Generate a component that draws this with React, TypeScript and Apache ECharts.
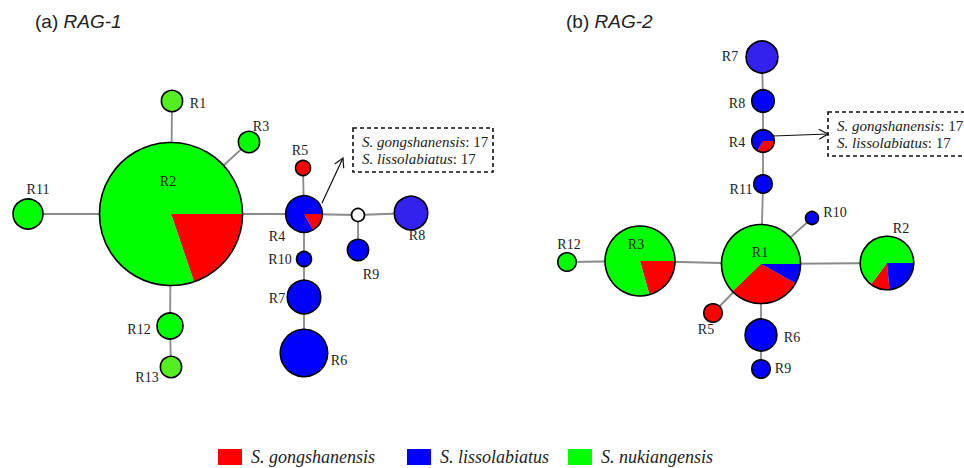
import React, { useEffect, useRef } from "react";
import * as echarts from "echarts";

// ---------- data ----------
const SPECIES = ["S. gongshanensis", "S. lissolabiatus", "S. nukiangensis"];

// (a) RAG-1 haplotype network ("mv" = median vector)
const rag1Names = ["R1", "R2", "R3", "R4", "R5", "R6", "R7", "R8", "R9", "R10", "R11", "R12", "R13", "mv"];
const rag1X = [172, 171, 249, 304, 303, 304, 304, 411, 358, 304, 28, 170, 171, 358];
const rag1Y = [101, 214, 142, 214, 168, 353, 297, 213, 250, 259, 214, 326, 367, 215];
const rag1Gong = [0, 18, 0, 1, 1, 0, 0, 0, 0, 0, 0, 0, 0, 0];
const rag1Liss = [0, 0, 0, 5, 0, 10, 5, 5, 2, 1, 0, 0, 0, 0];
const rag1Nuki = [2, 73, 2, 0, 0, 0, 0, 0, 0, 0, 4, 3, 2, 0];
const rag1Edges = [
  ["R2", "R1"], ["R2", "R3"], ["R2", "R11"], ["R2", "R12"], ["R12", "R13"], ["R2", "R4"],
  ["R4", "R5"], ["R4", "R10"], ["R10", "R7"], ["R7", "R6"], ["R4", "mv"], ["mv", "R8"], ["mv", "R9"],
];

// (b) RAG-2 haplotype network
const rag2Names = ["R1", "R2", "R3", "R4", "R5", "R6", "R7", "R8", "R9", "R10", "R11", "R12"];
const rag2X = [761, 887, 640, 763, 713, 761, 762, 763, 761, 812, 763, 567];
const rag2Y = [264, 263, 261, 141, 313, 335, 57, 101, 369, 218, 184, 262];
const rag2Gong = [11, 2, 6, 1, 2, 0, 0, 0, 0, 0, 0, 0];
const rag2Liss = [3, 4, 0, 2, 0, 6, 6, 3, 2, 1, 2, 0];
const rag2Nuki = [23, 11, 23, 0, 0, 0, 0, 0, 0, 0, 0, 2];
const rag2Edges = [
  ["R7", "R8"], ["R8", "R4"], ["R4", "R11"], ["R11", "R1"], ["R1", "R10"], ["R1", "R2"],
  ["R1", "R3"], ["R3", "R12"], ["R1", "R5"], ["R1", "R6"], ["R6", "R9"],
];

const annotationLines = [
  { sp: "S. gongshanensis", n: 17 },
  { sp: "S. lissolabiatus", n: 17 },
];

// ---------- layout & style ----------
const COLORS = ["#ff0000", "#0000ff", "#00ff00"];
const PANEL_SCALE = { a: 7.5, b: 6.5 }; // radius per sqrt(count)
const MEDIAN_R = 6.5;
const FILL_OVERRIDE: Record<string, string> = {
  "a:R1": "#55ee22", "a:R13": "#55ee22", "a:R8": "#3322ee", "b:R7": "#3322ee",
};
const LABEL_OFFSET: Record<string, [number, number]> = {
  "a:R1": [26, 2], "a:R2": [-3, -33], "a:R3": [12, -16], "a:R4": [-27, 22], "a:R5": [-3, -18],
  "a:R6": [35, 7], "a:R7": [-27, 1], "a:R8": [6, 22], "a:R9": [13, 24], "a:R10": [-24, 0],
  "a:R11": [10, -25], "a:R12": [-31, 3], "a:R13": [-24, 10],
  "b:R1": [-1, -12], "b:R2": [14, -35], "b:R3": [-4, -17], "b:R4": [-26, 1], "b:R5": [-7, 16],
  "b:R6": [31, 2], "b:R7": [-32, -1], "b:R8": [-26, 2], "b:R9": [22, -1], "b:R10": [23, -6],
  "b:R11": [-22, 5], "b:R12": [2, -18],
};
const SLICE_ORDER_DEFAULT = [1, 0, 2];
const SLICE_ORDER_R4 = [0, 1, 2];

type Node = { panel: "a" | "b"; name: string; x: number; y: number; counts: number[] };

function buildNodes(): Node[] {
  const out: Node[] = [];
  rag1Names.forEach((name, i) =>
    out.push({ panel: "a", name, x: rag1X[i], y: rag1Y[i], counts: [rag1Gong[i], rag1Liss[i], rag1Nuki[i]] })
  );
  rag2Names.forEach((name, i) =>
    out.push({ panel: "b", name, x: rag2X[i], y: rag2Y[i], counts: [rag2Gong[i], rag2Liss[i], rag2Nuki[i]] })
  );
  return out;
}

const SERIF = "'Liberation Serif', 'Times New Roman', serif";
const SANS = "'Liberation Sans', Arial, sans-serif";

function arrow(x1: number, y1: number, x2: number, y2: number) {
  const dx = x2 - x1, dy = y2 - y1;
  const len = Math.hypot(dx, dy);
  const ux = dx / len, uy = dy / len;
  const px = -uy, py = ux;
  const L = 9, W = 5;
  const bx = x2 - ux * L, by = y2 - uy * L;
  return [
    { type: "line", shape: { x1, y1, x2, y2 }, style: { stroke: "#111", lineWidth: 1.2 } },
    {
      type: "polyline",
      shape: { points: [[bx + px * W, by + py * W], [x2, y2], [bx - px * W, by - py * W]] },
      style: { stroke: "#111", fill: "none", lineWidth: 1.2 },
    },
  ];
}

function box(x: number, y: number, w: number, h: number) {
  return [
    {
      type: "rect",
      shape: { x, y, width: w, height: h },
      style: { fill: "#fff", stroke: "#111", lineWidth: 1.6, lineDash: [4, 3] },
    },
    ...annotationLines.map((l, i) => ({
      type: "text",
      x: x + 9,
      y: y + 14 + i * 17,
      style: {
        text: `{i|${l.sp}}{n|: ${l.n}}`,
        verticalAlign: "middle",
        rich: {
          i: { fontFamily: SERIF, fontStyle: "italic", fontSize: 15, fill: "#222" },
          n: { fontFamily: SERIF, fontSize: 15, fill: "#222" },
        },
      },
    })),
  ];
}

function title(x: number, tag: string, gene: string) {
  return {
    type: "text",
    x,
    y: 21,
    style: {
      text: `{n|${tag} }{i|${gene}}`,
      verticalAlign: "middle",
      rich: {
        n: { fontFamily: SANS, fontSize: 19, fill: "#222" },
        i: { fontFamily: SANS, fontStyle: "italic", fontSize: 19, fill: "#222" },
      },
    },
  };
}

export default function App() {
  const ref = useRef<HTMLDivElement>(null);

  useEffect(() => {
    if (!ref.current) return;
    const chart = echarts.init(ref.current, undefined, { renderer: "svg" });
    const nodes = buildNodes();
    const key = (n: Node) => `${n.panel}:${n.name}`;
    const find = (panel: string, name: string) => nodes.find((n) => n.panel === panel && n.name === name)!;
    const total = (n: Node) => n.counts[0] + n.counts[1] + n.counts[2];
    const radius = (n: Node) => (total(n) === 0 ? MEDIAN_R : PANEL_SCALE[n.panel] * Math.sqrt(total(n)));

    const edges = [
      ...rag1Edges.map(([a, b]) => [find("a", a), find("a", b)]),
      ...rag2Edges.map(([a, b]) => [find("b", a), find("b", b)]),
    ];

    const nodeData = nodes.map((n) => [n.x, n.y]);

    const sliceSeries = SPECIES.map((name, s) => ({
      type: "custom",
      name,
      coordinateSystem: "cartesian2d",
      z: 3,
      itemStyle: { color: COLORS[s] },
      data: nodeData,
      renderItem: (params: any, api: any) => {
        const n = nodes[params.dataIndex];
        const tot = total(n);
        if (!n.counts[s]) return null;
        const [cx, cy] = api.coord([n.x, n.y]);
        const r = api.size([radius(n), 0])[0];
        const fill = FILL_OVERRIDE[key(n)] || COLORS[s];
        if (n.counts[s] === tot) {
          return { type: "circle", shape: { cx, cy, r }, style: { fill } };
        }
        const order = n.name === "R4" ? SLICE_ORDER_R4 : SLICE_ORDER_DEFAULT;
        let start = 0;
        for (const k of order) {
          if (k === s) break;
          start += n.counts[k];
        }
        const a0 = (start / tot) * Math.PI * 2;
        const a1 = ((start + n.counts[s]) / tot) * Math.PI * 2;
        return {
          type: "sector",
          shape: { cx, cy, r, r0: 0, startAngle: a0, endAngle: a1, clockwise: true },
          style: { fill },
        };
      },
    }));

    const option: any = {
      animation: false,
      backgroundColor: "#ffffff",
      grid: { left: 0, right: 0, top: 0, bottom: 0 },
      xAxis: { type: "value", min: 0, max: 964, show: false },
      yAxis: { type: "value", min: 0, max: 468, inverse: true, show: false },
      legend: SPECIES.map((name, i) => ({
        data: [name],
        left: [218, 407, 568][i],
        top: 448,
        padding: 0,
        icon: "rect",
        itemWidth: 24,
        itemHeight: 16,
        selectedMode: false,
        itemStyle: { borderWidth: 0 },
        textStyle: {
          fontFamily: SERIF,
          fontStyle: "italic",
          fontSize: 18,
          color: "#222",
          padding: [0, 0, 0, 4],
        },
      })),
      series: [
        {
          type: "custom",
          name: "edges",
          coordinateSystem: "cartesian2d",
          z: 1,
          data: edges.map(([a, b]) => [a.x, a.y, b.x, b.y]),
          encode: { x: [0, 2], y: [1, 3] },
          renderItem: (params: any, api: any) => {
            const [a, b] = edges[params.dataIndex];
            const p1 = api.coord([a.x, a.y]);
            const p2 = api.coord([b.x, b.y]);
            return {
              type: "line",
              shape: { x1: p1[0], y1: p1[1], x2: p2[0], y2: p2[1] },
              style: { stroke: "#8a8a8a", lineWidth: 1.8 },
            };
          },
        },
        ...sliceSeries,
        {
          type: "custom",
          name: "outlines",
          coordinateSystem: "cartesian2d",
          z: 5,
          data: nodeData,
          renderItem: (params: any, api: any) => {
            const n = nodes[params.dataIndex];
            const [cx, cy] = api.coord([n.x, n.y]);
            const r = api.size([radius(n), 0])[0];
            const children: any[] = [
              {
                type: "circle",
                shape: { cx, cy, r },
                style: { fill: total(n) === 0 ? "#ffffff" : "none", stroke: "#000", lineWidth: 1.6 },
              },
            ];
            const off = LABEL_OFFSET[key(n)];
            if (off) {
              children.push({
                type: "text",
                x: cx + off[0],
                y: cy + off[1],
                style: {
                  text: n.name,
                  fontFamily: SERIF,
                  fontSize: 14,
                  fill: "#222",
                  align: "center",
                  verticalAlign: "middle",
                },
              });
            }
            return { type: "group", children };
          },
        },
      ],
      graphic: [
        title(35, "(a)", "RAG-1"),
        title(566, "(b)", "RAG-2"),
        ...box(353, 128, 140, 44),
        ...box(828, 112, 150, 44),
        ...arrow(322, 203, 343, 158),
        ...arrow(773, 136, 828, 134),
      ],
    };

    chart.setOption(option);
    return () => chart.dispose();
  }, []);

  return (
    <div
      ref={ref}
      style={{ position: "fixed", left: 0, top: 0, width: 964, height: 468, background: "#fff" }}
    />
  );
}
